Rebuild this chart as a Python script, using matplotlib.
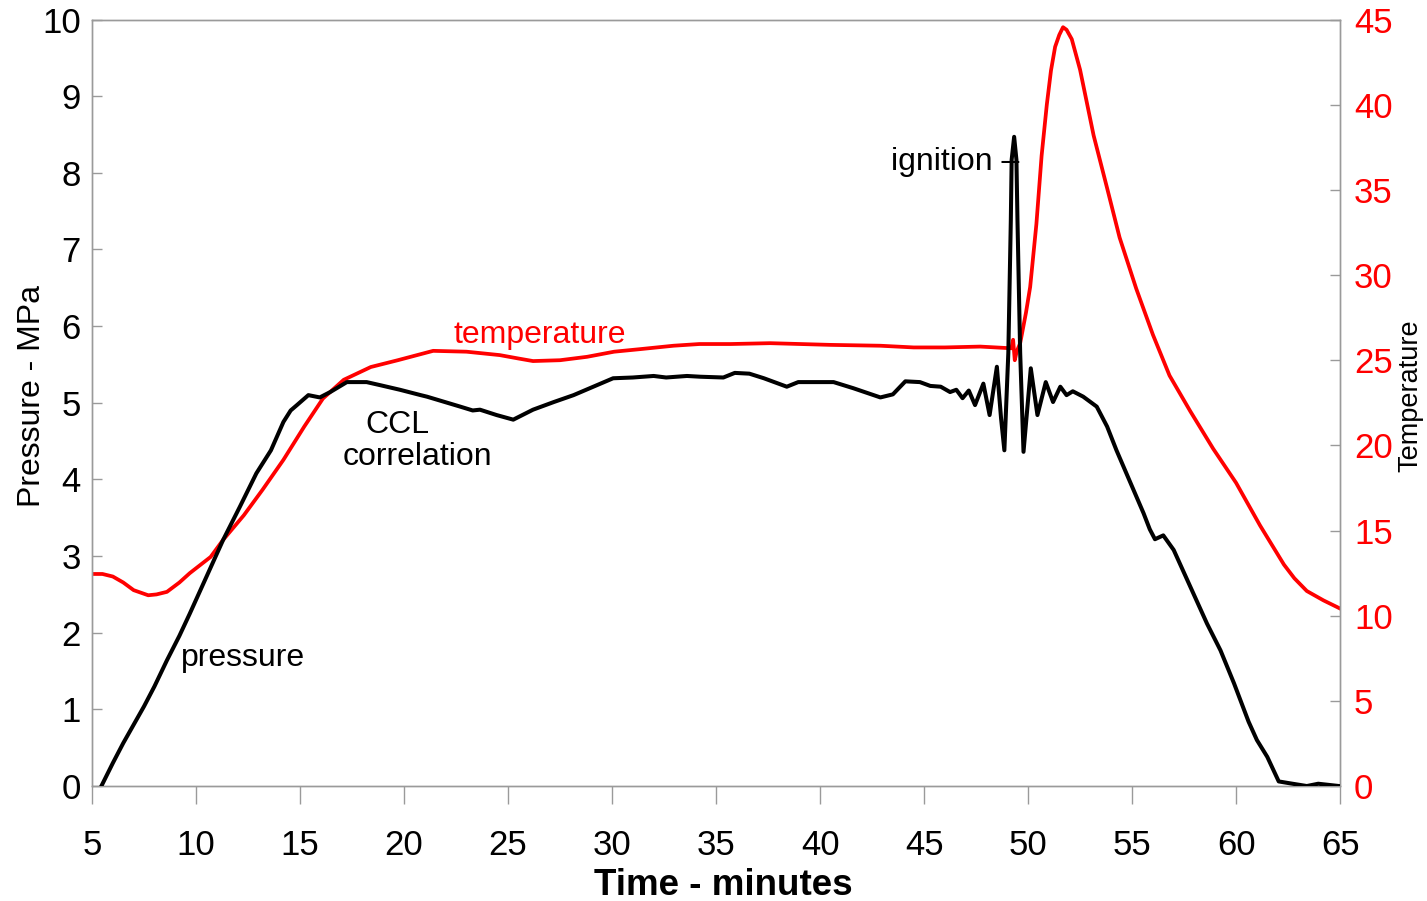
import matplotlib
matplotlib.use("Agg")
import matplotlib.pyplot as plt

plt.rcParams['font.family'] = ['Liberation Sans', 'DejaVu Sans']

# pressure trace (minutes, MPa)
time_p = [5.45, 6.0, 6.5, 7.0, 7.5, 8.0, 8.6, 9.2, 9.7, 10.5, 11.3, 12.1, 12.9,
          13.6, 14.2, 14.55, 14.85, 15.4, 15.95, 16.45, 17.25, 18.2, 18.85, 19.8,
          20.8, 21.1, 22.7, 23.3, 23.65, 24.45, 25.25, 26.2, 27.2, 28.15, 29.1,
          30.05, 31.0, 32.0, 32.6, 33.6, 34.25, 35.35, 35.9, 36.6, 37.3, 38.4,
          38.95, 40.65, 41.6, 42.9, 43.5, 44.1, 44.8, 45.3, 45.8, 46.25, 46.55,
          46.85, 47.15, 47.45, 47.85, 48.15, 48.5, 48.7, 48.86, 49.05, 49.17,
          49.21, 49.33, 49.44, 49.49, 49.62, 49.78, 49.97, 50.13, 50.45, 50.85,
          51.2, 51.55, 51.85, 52.15, 52.65, 53.3, 53.8, 54.25, 54.9, 55.55,
          55.85, 56.1, 56.5, 57.0, 57.8, 58.6, 59.25, 59.9, 60.6, 61.0, 61.5,
          62.05, 62.6, 63.4, 63.95, 64.95]
pressure = [0.0, 0.3, 0.56, 0.8, 1.04, 1.3, 1.64, 1.96, 2.25, 2.73, 3.21, 3.64, 4.08,
            4.38, 4.75, 4.9, 4.97, 5.1, 5.07, 5.14, 5.27, 5.27, 5.23, 5.17,
            5.1, 5.08, 4.95, 4.9, 4.91, 4.84, 4.78, 4.91, 5.01, 5.1, 5.21,
            5.32, 5.33, 5.35, 5.33, 5.35, 5.34, 5.33, 5.39, 5.38, 5.32, 5.21,
            5.27, 5.27, 5.19, 5.07, 5.11, 5.28, 5.27, 5.22, 5.21, 5.14, 5.17,
            5.06, 5.16, 4.97, 5.25, 4.84, 5.47, 4.8, 4.38, 5.65, 7.38,
            8.17, 8.47, 8.17, 7.38, 5.65, 4.36, 4.95, 5.45, 4.84, 5.27,
            5.01, 5.21, 5.1, 5.15, 5.08, 4.95, 4.69, 4.38, 3.97, 3.56,
            3.35, 3.22, 3.27, 3.08, 2.6, 2.12, 1.77, 1.34, 0.84, 0.6, 0.38,
            0.06, 0.035, 0.0, 0.03, 0.0]

# temperature trace (minutes, deg)
time_t = [5.0, 5.5, 6.0, 6.5, 7.0, 7.7, 8.1, 8.6, 9.2, 9.7, 10.7, 11.3, 12.3, 13.2,
          14.2, 15.2, 16.1, 17.1, 18.4, 19.7, 21.4, 23.0, 24.6, 25.5, 26.2, 27.5,
          28.8, 30.1, 31.35, 32.95, 34.2, 35.7, 37.6, 40.5, 42.9, 44.5, 46.0,
          47.7, 49.2, 49.28, 49.36, 49.45, 49.62, 49.9, 50.1, 50.4, 50.65, 50.9,
          51.1, 51.3, 51.5, 51.68, 51.85, 52.1, 52.5, 53.15, 53.8, 54.4, 55.2,
          56.0, 56.8, 57.8, 58.9, 60.0, 61.15, 62.3, 62.8, 63.4, 64.2, 64.95]
temperature = [12.45, 12.45, 12.3, 11.95, 11.5, 11.2, 11.25, 11.4, 11.95, 12.5, 13.45,
               14.45, 15.9, 17.4, 19.15, 21.1, 22.75, 23.85, 24.6, 25.0, 25.55,
               25.5, 25.3, 25.1, 24.95, 25.0, 25.2, 25.5, 25.65, 25.85, 25.95,
               25.95, 26.0, 25.9, 25.85, 25.75, 25.75, 25.8, 25.7, 26.2, 25.0,
               25.5, 26.0, 27.8, 29.3, 33.0, 37.0, 40.0, 42.0, 43.4, 44.1, 44.55,
               44.4, 43.85, 42.05, 38.2, 35.1, 32.2, 29.2, 26.5, 24.1, 22.0, 19.8,
               17.8, 15.3, 13.0, 12.2, 11.45, 10.9, 10.45]

x_ticks = [5, 10, 15, 20, 25, 30, 35, 40, 45, 50, 55, 60, 65]
p_ticks = list(range(0, 11))
t_ticks = list(range(0, 50, 5))

grey = '#9a9a9a'

fig = plt.figure(figsize=(14.27, 9.01), dpi=100)
ax = fig.add_axes([0.0645, 0.1276, 0.8746, 0.8507])
ax2 = ax.twinx()

ax.plot(time_p, pressure, color='black', lw=2.9, zorder=3)
ax2.plot(time_t, temperature, color='#ff0000', lw=2.7)
ax.set_zorder(ax2.get_zorder() + 1)
ax.patch.set_visible(False)

ax.set_xlim(5, 65)
ax.set_ylim(0, 10)
ax2.set_ylim(0, 45)
ax.set_xticks(x_ticks)
ax.set_yticks(p_ticks)
ax2.set_yticks(t_ticks)

for a in (ax, ax2):
    for s in a.spines.values():
        s.set_color(grey)
        s.set_linewidth(1.0)

ax.tick_params(axis='y', direction='in', length=7, width=1, color=grey,
               labelsize=25, pad=8)
ax.tick_params(axis='x', direction='out', length=13, width=1, color=grey,
               labelsize=25, pad=18)
ax2.tick_params(axis='y', direction='in', length=7, width=1, color=grey,
                labelsize=25, pad=10, labelcolor='#ff0000')

ax.set_ylabel('Pressure - MPa', fontsize=23)
ax.yaxis.set_label_coords(-0.036, 0.509)
ax2.set_ylabel('Temperature', fontsize=19.5, rotation=90)
ax2.yaxis.set_label_coords(1.046, 0.509)
ax.set_xlabel('Time - minutes', fontsize=26.5, fontweight='bold')
ax.xaxis.set_label_coords(0.5056, -0.107)

ax.text(26.54, 5.88, 'temperature', color='#ff0000', fontsize=23,
        ha='center', va='center')
ax.text(9.28, 1.67, 'pressure', fontsize=23, ha='left', va='center')
ax.text(19.66, 4.71, 'CCL', fontsize=23, ha='center', va='center')
ax.text(20.63, 4.29, 'correlation', fontsize=23, ha='center', va='center')
ax.text(43.41, 8.14, 'ignition \u2013', fontsize=23, ha='left', va='center')

fig.savefig('out.png', dpi=100)
